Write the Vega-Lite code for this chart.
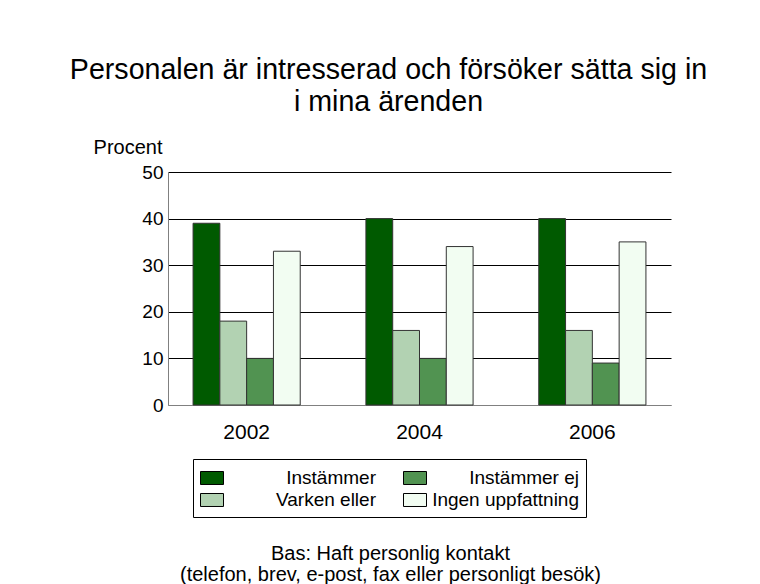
{
  "$schema": "https://vega.github.io/schema/vega-lite/v6.json",
  "width": 503,
  "height": 233,
  "autosize": {"type": "none"},
  "padding": {"left": 168, "top": 172, "right": 89, "bottom": 179},
  "background": "white",
  "title": {
    "text": ["Personalen är intresserad och försöker sätta sig in", "i mina ärenden"],
    "font": "Liberation Sans",
    "fontSize": 28.6,
    "fontWeight": "normal",
    "lineHeight": 32,
    "color": "black",
    "anchor": "middle",
    "dx": -31,
    "offset": 20
  },
  "data": {
    "values": [
      {"year": "2002", "kategori": "Instämmer", "procent": 39},
      {"year": "2002", "kategori": "Varken eller", "procent": 18},
      {"year": "2002", "kategori": "Instämmer ej", "procent": 10},
      {"year": "2002", "kategori": "Ingen uppfattning", "procent": 33},
      {"year": "2004", "kategori": "Instämmer", "procent": 40},
      {"year": "2004", "kategori": "Varken eller", "procent": 16},
      {"year": "2004", "kategori": "Instämmer ej", "procent": 10},
      {"year": "2004", "kategori": "Ingen uppfattning", "procent": 34},
      {"year": "2006", "kategori": "Instämmer", "procent": 40},
      {"year": "2006", "kategori": "Varken eller", "procent": 16},
      {"year": "2006", "kategori": "Instämmer ej", "procent": 9},
      {"year": "2006", "kategori": "Ingen uppfattning", "procent": 35}
    ]
  },
  "mark": {"type": "bar", "stroke": "#333333", "strokeWidth": 1},
  "encoding": {
    "x": {
      "field": "year",
      "type": "nominal",
      "scale": {"paddingInner": 0.38, "paddingOuter": 0.145},
      "axis": {
        "labelAngle": 0,
        "labelFontSize": 21,
        "labelColor": "black",
        "labelPadding": 16,
        "ticks": false,
        "tickSize": 0,
        "domainColor": "#808080",
        "domainWidth": 1,
        "grid": false,
        "title": ["Bas: Haft personlig kontakt", "(telefon, brev, e-post, fax eller personligt besök)"],
        "titleFontSize": 20,
        "titleFontWeight": "normal",
        "titleColor": "black",
        "titleLineHeight": 21,
        "titleBaseline": "top",
        "titleAlign": "center",
        "titleX": 222,
        "titleY": 138
      }
    },
    "xOffset": {
      "field": "kategori",
      "type": "nominal",
      "sort": ["Instämmer", "Varken eller", "Instämmer ej", "Ingen uppfattning"],
      "scale": {"paddingInner": 0, "paddingOuter": 0}
    },
    "y": {
      "field": "procent",
      "type": "quantitative",
      "scale": {"domain": [0, 50], "nice": false},
      "axis": {
        "values": [0, 10, 20, 30, 40, 50],
        "ticks": false,
        "tickSize": 0,
        "labelFontSize": 19,
        "labelColor": "black",
        "labelPadding": 5,
        "domainColor": "#808080",
        "grid": true,
        "gridColor": {"condition": {"test": "datum.value === 0", "value": "#808080"}, "value": "black"},
        "gridOpacity": 1,
        "gridWidth": 1,
        "title": "Procent",
        "titleAngle": 0,
        "titleAlign": "right",
        "titleBaseline": "alphabetic",
        "titleFontSize": 20,
        "titleFontWeight": "normal",
        "titleColor": "black",
        "titleX": -6,
        "titleY": -19
      }
    },
    "color": {
      "field": "kategori",
      "type": "nominal",
      "scale": {
        "domain": ["Instämmer", "Instämmer ej", "Varken eller", "Ingen uppfattning"],
        "range": ["#005a00", "#519351", "#b2d2b2", "#f2fdf2"]
      },
      "legend": {
        "orient": "none",
        "legendX": 25,
        "legendY": 287,
        "direction": "horizontal",
        "columns": 2,
        "title": null,
        "symbolType": "M-1,-0.565H1V0.565H-1Z",
        "symbolSize": 529,
        "symbolStrokeColor": "black",
        "symbolStrokeWidth": 1,
        "symbolOpacity": 1,
        "labelFontSize": 19,
        "labelColor": "black",
        "labelAlign": "right",
        "labelOffset": 152,
        "labelLimit": 0,
        "strokeColor": "black",
        "padding": 7,
        "rowPadding": -2,
        "columnPadding": 25
      }
    }
  },
  "config": {
    "view": {"stroke": null},
    "font": "Liberation Sans"
  }
}
